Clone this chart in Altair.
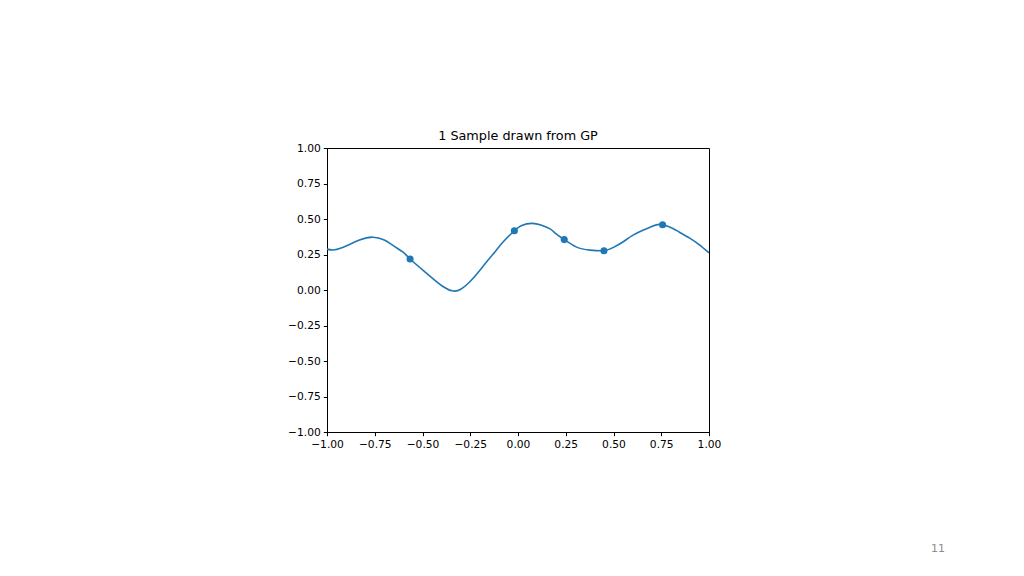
import altair as alt
import pandas as pd

# Curve values
curve_x = [-1.0, -0.96, -0.9, -0.83, -0.76, -0.7, -0.653, -0.6, -0.565, -0.478, -0.391,
           -0.339, -0.3, -0.251, -0.208, -0.164, -0.12, -0.077, -0.019, 0.02, 0.072, 0.12,
           0.168, 0.2, 0.242, 0.307, 0.377, 0.45, 0.5, 0.551, 0.6, 0.657, 0.7, 0.745, 0.8,
           0.831, 0.901, 0.95, 1.0]
curve_y = [0.288, 0.283, 0.31, 0.352, 0.372, 0.352, 0.312, 0.265, 0.218, 0.117, 0.023,
           -0.007, 0.005, 0.06, 0.125, 0.199, 0.27, 0.340, 0.417, 0.455, 0.469, 0.458,
           0.43, 0.395, 0.355, 0.302, 0.281, 0.277, 0.30, 0.340, 0.385, 0.423, 0.447, 0.462, 0.44,
           0.418, 0.364, 0.318, 0.262]

# Observed points
obs_x = [-0.565, -0.019, 0.242, 0.450, 0.757]
obs_y = [0.218, 0.417, 0.355, 0.277, 0.460]

tick_vals = [-1.0, -0.75, -0.5, -0.25, 0.0, 0.25, 0.5, 0.75, 1.0]
page_label = ["11"]

curve = pd.DataFrame({"x": curve_x, "y": curve_y})
obs = pd.DataFrame({"x": obs_x, "y": obs_y})
page = pd.DataFrame({"label": page_label})

FONT = "DejaVu Sans"
BLUE = "#1f77b4"

xscale = alt.Scale(domain=[-1, 1], nice=False, zero=False)
yscale = alt.Scale(domain=[-1, 1], nice=False, zero=False)

common = dict(values=tick_vals, tickCount=9, format=".2f", grid=False, title=None,
              labelFont=FONT, labelFontSize=10.7, labelColor="black",
              tickColor="black", domainColor="black", tickSize=3.7,
              labelFlush=False, labelOverlap=False)


def xaxis():
    return alt.Axis(labelPadding=4, **common)


def yaxis():
    return alt.Axis(labelPadding=3, **common)


line = alt.Chart(curve).mark_line(color=BLUE, strokeWidth=1.6, interpolate="natural").encode(
    x=alt.X("x:Q", scale=xscale, axis=xaxis()),
    y=alt.Y("y:Q", scale=yscale, axis=yaxis()),
)

points = alt.Chart(obs).mark_circle(color=BLUE, size=50, opacity=1).encode(
    x=alt.X("x:Q", scale=xscale, axis=xaxis()),
    y=alt.Y("y:Q", scale=yscale, axis=yaxis()),
)

pagenum = alt.Chart(page).mark_text(font=FONT, fontSize=11, color="#8c8c8c", clip=False).encode(
    x=alt.value(611),
    y=alt.value(401),
    text="label:N",
)

chart = alt.layer(line, points, pagenum).properties(
    width=382,
    height=284,
    title=alt.TitleParams("1 Sample drawn from GP", font=FONT, fontSize=12.8,
                          fontWeight="normal", color="black", offset=-1),
    autosize=alt.AutoSizeParams(type="none"),
    padding={"left": 319, "top": 140, "right": 300, "bottom": 130},
).configure(background="white").configure_view(stroke="black", strokeWidth=1)

chart.save("out.html", embed_options={"renderer": "svg", "actions": False})
